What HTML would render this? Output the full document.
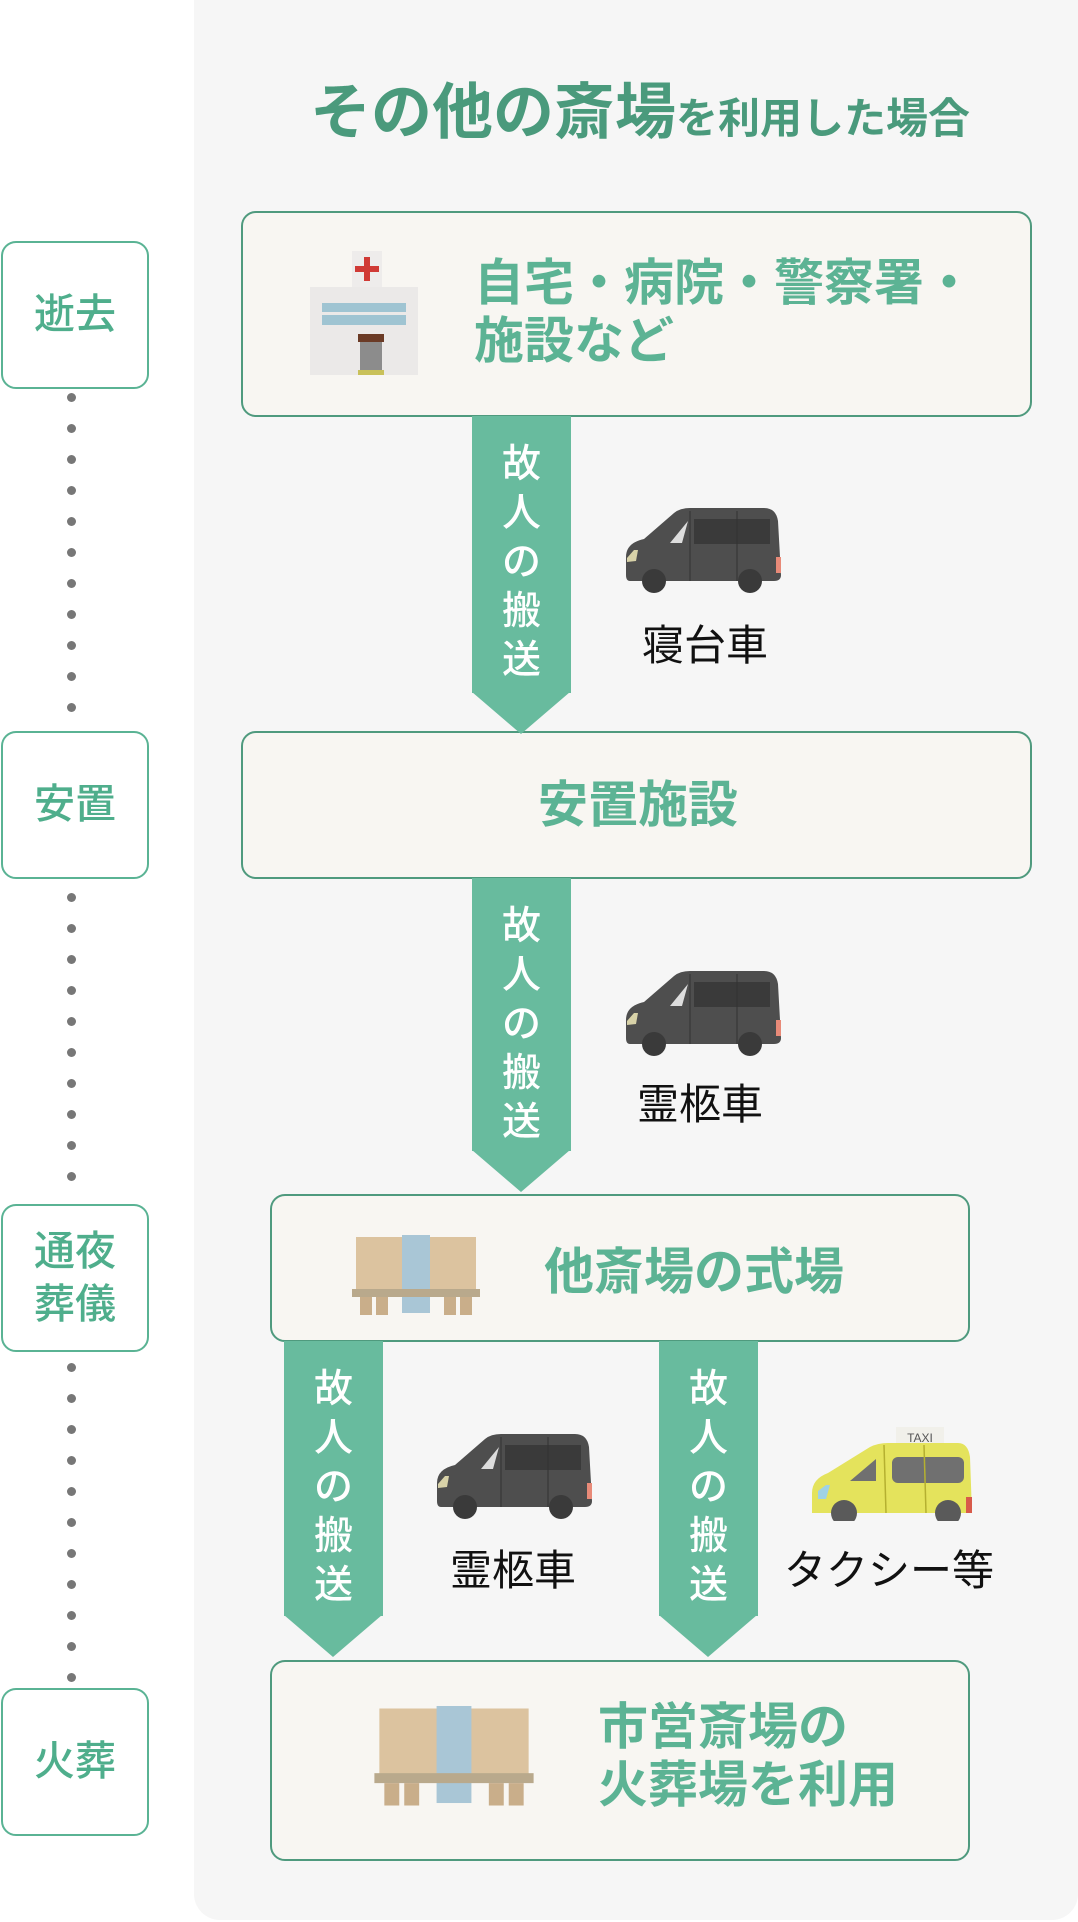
<!DOCTYPE html>
<html><head><meta charset="utf-8"><style>
*{margin:0;padding:0;box-sizing:border-box}
body{width:1078px;height:1922px;background:#fff;position:relative;overflow:hidden;font-family:"Liberation Sans","Noto Sans CJK JP",sans-serif}
.a{position:absolute}
.panel{left:194px;top:-30px;width:884px;height:1950px;background:#f6f6f6;border-radius:26px}
.lb{position:absolute;left:1px;width:148px;height:148px;border:2.5px solid #5ab394;border-radius:15px;background:#fff;color:#4fae8c;font-size:41px;font-weight:500;display:flex;align-items:center;justify-content:center;text-align:center;line-height:1.3}
.dot{position:absolute;left:67px;width:9px;height:9px;border-radius:50%;background:#777}
.box{position:absolute;border:2.5px solid #4f9a7e;border-radius:15px;background:#f8f6f2}
.gt{position:absolute;color:#5cb394;font-weight:700;font-size:50px;line-height:1.15;white-space:nowrap}
.arr{position:absolute;width:99px}
.arr .col{position:absolute;left:0;top:0;width:99px;background:#68bb9e}
.arr .tri{position:absolute;left:0;width:0;height:0;border-left:49.5px solid transparent;border-right:49.5px solid transparent;border-top:42px solid #68bb9e}
.arr .tx{position:absolute;left:0;width:99px;text-align:center;color:#fff;font-size:39px;font-weight:500;line-height:49px}
.lbl{position:absolute;color:#111;font-size:42px;white-space:nowrap;transform:translateX(-50%)}
</style></head><body>
<div class="a panel"></div>

<div class="a" style="left:310px;top:76px;color:#4a9a7c;font-weight:700;white-space:nowrap;line-height:72px"><span style="font-size:61px">その他の斎場</span><span style="font-size:42px">を利用した場合</span></div>

<div class="lb" style="top:241px">逝去</div>
<div class="lb" style="top:731px">安置</div>
<div class="lb" style="top:1204px">通夜<br>葬儀</div>
<div class="lb" style="top:1688px">火葬</div>

<div class="box" style="left:241px;top:211px;width:791px;height:206px"></div>
<div class="box" style="left:241px;top:731px;width:791px;height:148px"></div>
<div class="box" style="left:270px;top:1194px;width:700px;height:148px"></div>
<div class="box" style="left:270px;top:1660px;width:700px;height:201px"></div>

<div class="gt" style="left:474px;top:255px">自宅・病院・警察署・<br>施設など</div>
<div class="gt" style="left:538px;top:777px">安置施設</div>
<div class="gt" style="left:544px;top:1244px">他斎場の式場</div>
<div class="gt" style="left:598px;top:1698px;line-height:58px">市営斎場の<br>火葬場を利用</div>

<svg class="a" style="left:310px;top:251px" width="108" height="125" viewBox="0 0 108 125">
<rect x="42" y="0" width="30" height="38" fill="#eeeceb"/>
<rect x="54" y="6" width="6" height="24" fill="#d03a35"/><rect x="45" y="15" width="24" height="6" fill="#d03a35"/>
<rect x="0" y="36" width="108" height="88" fill="#ebe9e8"/>
<g fill="#9fc4d2"><rect x="12" y="52" width="84" height="9"/><rect x="12" y="64" width="84" height="10"/></g>
<rect x="48" y="83" width="26" height="8" fill="#6b3b26"/>
<rect x="50" y="91" width="22" height="28" fill="#8c8c8c"/>
<rect x="48" y="119" width="26" height="5" fill="#c9c15a"/>
</svg>

<svg class="a" style="left:352px;top:1235px" width="128" height="82" viewBox="0 0 128 82">
<rect x="4" y="2" width="120" height="56" fill="#dcc39f"/>
<rect x="50" y="0" width="28" height="78" fill="#a9c6d6"/>
<rect x="0" y="54" width="128" height="8" fill="#b9a98c"/>
<g fill="#c9ae8a"><rect x="8" y="62" width="12" height="18"/><rect x="24" y="62" width="12" height="18"/><rect x="92" y="62" width="12" height="18"/><rect x="108" y="62" width="12" height="18"/></g>
</svg>
<svg class="a" style="left:374px;top:1706px" width="160" height="102" viewBox="0 0 128 82">
<rect x="4" y="2" width="120" height="56" fill="#dcc39f"/>
<rect x="50" y="0" width="28" height="78" fill="#a9c6d6"/>
<rect x="0" y="54" width="128" height="8" fill="#b9a98c"/>
<g fill="#c9ae8a"><rect x="8" y="62" width="12" height="18"/><rect x="24" y="62" width="12" height="18"/><rect x="92" y="62" width="12" height="18"/><rect x="108" y="62" width="12" height="18"/></g>
</svg>

<div class="arr" style="left:472px;top:416px"><div class="col" style="height:277px"></div><div class="tri" style="top:276px"></div><div class="tx" style="top:24px">故<br>人<br>の<br>搬<br>送</div></div>
<div class="arr" style="left:472px;top:878px"><div class="col" style="height:273px"></div><div class="tri" style="top:272px"></div><div class="tx" style="top:24px">故<br>人<br>の<br>搬<br>送</div></div>
<div class="arr" style="left:284px;top:1341px"><div class="col" style="height:275px"></div><div class="tri" style="top:274px"></div><div class="tx" style="top:24px">故<br>人<br>の<br>搬<br>送</div></div>
<div class="arr" style="left:659px;top:1341px"><div class="col" style="height:275px"></div><div class="tri" style="top:274px"></div><div class="tx" style="top:24px">故<br>人<br>の<br>搬<br>送</div></div>

<svg width="0" height="0" style="position:absolute"><defs>
<g id="van"><path d="M2 52 Q2 38 20 34 L50 8 Q56 3 66 3 L140 3 Q152 3 154 16 L157 70 Q157 76 150 76 L6 76 Q2 76 2 70 Z" fill="#4e4e4e"/>
<path d="M46 38 L64 16 L58 38 Z" fill="#ddd"/><rect x="70" y="14" width="76" height="25" fill="#3a3a3a"/>
<line x1="66" y1="6" x2="66" y2="76" stroke="#333" stroke-width="1"/><line x1="113" y1="6" x2="113" y2="76" stroke="#333" stroke-width="1"/>
<path d="M3 53 L10 45 L14 45 L12 56 L3 57Z" fill="#d8d2a8"/><rect x="152" y="52" width="5" height="16" fill="#e88a78"/>
<circle cx="30" cy="76" r="12" fill="#3a3a3a"/><circle cx="126" cy="76" r="12" fill="#3a3a3a"/></g></defs></svg>
<svg class="a" style="left:624px;top:505px" width="160" height="90" viewBox="0 0 160 90"><use href="#van"/></svg>
<svg class="a" style="left:624px;top:968px" width="160" height="90" viewBox="0 0 160 90"><use href="#van"/></svg>
<svg class="a" style="left:435px;top:1431px" width="160" height="90" viewBox="0 0 160 90"><use href="#van"/></svg>

<svg class="a" style="left:808px;top:1413px" width="164" height="108" viewBox="0 0 164 108">
<rect x="88" y="14" width="48" height="18" fill="#f1f0ea"/>
<text x="112" y="29" font-size="12" text-anchor="middle" fill="#555" font-family="Liberation Sans">TAXI</text>
<path d="M4 80 Q4 66 20 60 L62 34 Q70 30 80 30 L150 30 Q160 30 162 44 L164 100 L4 100 Z" fill="#e4e35c"/>
<path d="M42 68 L68 46 L68 68 Z" fill="#707070"/><rect x="84" y="44" width="72" height="26" rx="6" fill="#707070"/>
<line x1="76" y1="32" x2="78" y2="100" stroke="#b5b030" stroke-width="1.5"/><line x1="116" y1="32" x2="118" y2="100" stroke="#b5b030" stroke-width="1.5"/>
<path d="M10 78 L18 72 L22 72 L18 86 L10 86Z" fill="#9fd2e5"/><rect x="158" y="84" width="6" height="16" fill="#d85a4a"/>
<circle cx="36" cy="100" r="13" fill="#5a5a5a"/><circle cx="140" cy="100" r="13" fill="#5a5a5a"/>
</svg>

<div class="lbl" style="left:705px;top:612px">寝台車</div>
<div class="lbl" style="left:700px;top:1071px">霊柩車</div>
<div class="lbl" style="left:513px;top:1537px">霊柩車</div>
<div class="lbl" style="left:889px;top:1537px">タクシー等</div>

<div class="dot" style="top:393px"></div><div class="dot" style="top:424px"></div><div class="dot" style="top:455px"></div><div class="dot" style="top:486px"></div><div class="dot" style="top:517px"></div><div class="dot" style="top:548px"></div><div class="dot" style="top:579px"></div><div class="dot" style="top:610px"></div><div class="dot" style="top:641px"></div><div class="dot" style="top:672px"></div><div class="dot" style="top:703px"></div>
<div class="dot" style="top:893px"></div><div class="dot" style="top:924px"></div><div class="dot" style="top:955px"></div><div class="dot" style="top:986px"></div><div class="dot" style="top:1017px"></div><div class="dot" style="top:1048px"></div><div class="dot" style="top:1079px"></div><div class="dot" style="top:1110px"></div><div class="dot" style="top:1141px"></div><div class="dot" style="top:1172px"></div>
<div class="dot" style="top:1363px"></div><div class="dot" style="top:1394px"></div><div class="dot" style="top:1425px"></div><div class="dot" style="top:1456px"></div><div class="dot" style="top:1487px"></div><div class="dot" style="top:1518px"></div><div class="dot" style="top:1549px"></div><div class="dot" style="top:1580px"></div><div class="dot" style="top:1611px"></div><div class="dot" style="top:1642px"></div><div class="dot" style="top:1673px"></div>
</body></html>
